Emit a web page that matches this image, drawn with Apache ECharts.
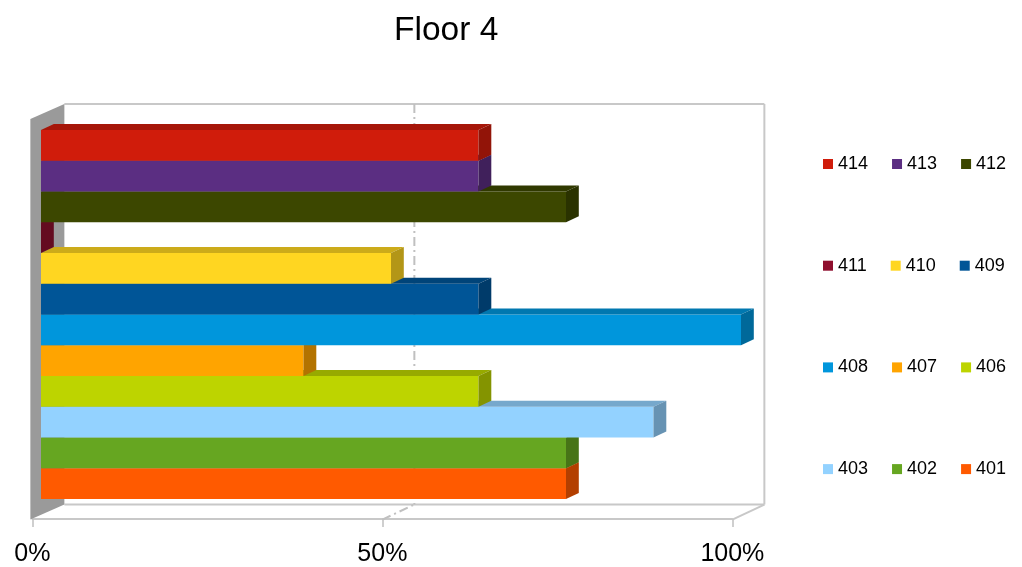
<!DOCTYPE html>
<html>
<head>
<meta charset="utf-8">
<title>Floor 4</title>
<script src="https://cdn.jsdelivr.net/npm/echarts@6/dist/echarts.min.js"></script>
<style>
  html, body { margin: 0; padding: 0; background: #ffffff; }
  #chart { width: 1022px; height: 567px; }
</style>
</head>
<body>
<div id="chart"></div>
<script>
// Rooms on floor 4, listed bottom to top as the bars are stacked
const rooms = ['401', '402', '403', '406', '407', '408', '409', '410', '411', '412', '413', '414'];
// Occupancy per room, in percent
const occupancy = [75, 75, 87.5, 62.5, 37.5, 100, 62.5, 50, 0, 75, 62.5, 62.5];
const roomColors = ['#ff5a00', '#66a621', '#93d2ff', '#bdd400', '#ffa400', '#0096dc',
                    '#005597', '#ffd621', '#8f0f2e', '#3c4700', '#5b2e82', '#d01c0b'];
// Legend rows, read left to right
const legendRows = [
  ['414', '413', '412'],
  ['411', '410', '409'],
  ['408', '407', '406'],
  ['403', '402', '401']
];
const AXIS_MIN = 0;
const AXIS_MAX = 100;
const TICK_STEP = 50;

const FONT = "'Liberation Sans', Arial, sans-serif";

// Oblique 3D look: full depth of the plot box as a screen vector,
// bars sit a little behind the front plane and take part of the depth.
const DEPTH = [32, -15];
const BAR_FRONT = 0.27;
const BAR_DEPTH = 0.4;
const PAD_TOP = 15;
const PAD_BOTTOM = 16.5;

// Grid for the bar front plane
const BAR_GRID = { left: 41, right: 281, top: 130, bottom: 68 };
// Grid for the front edge of the floor (carries the percent axis)
const FRONT_GRID = {
  left: BAR_GRID.left - DEPTH[0] * BAR_FRONT,
  right: BAR_GRID.right + DEPTH[0] * BAR_FRONT,
  top: BAR_GRID.top,
  bottom: BAR_GRID.bottom - PAD_BOTTOM + DEPTH[1] * BAR_FRONT
};

function shade(hex, k) {
  const n = parseInt(hex.slice(1), 16);
  const r = Math.round(((n >> 16) & 255) * k);
  const g = Math.round(((n >> 8) & 255) * k);
  const b = Math.round((n & 255) * k);
  return 'rgb(' + r + ',' + g + ',' + b + ')';
}

const WALL_LINE = { stroke: '#c8c8c8', lineWidth: 2, fill: null };
const GRID_LINE = { stroke: '#c0c0c0', lineWidth: 2, fill: null, lineDash: [9, 4, 2, 4] };

// Walls, floor and grid lines of the 3D box
function renderFrame(params, api) {
  const cs = params.coordSys;
  const xAt = v => api.coord([v, 0])[0];
  const top = cs.y - PAD_TOP;
  const bot = cs.y + cs.height + PAD_BOTTOM;
  const fdx = -DEPTH[0] * BAR_FRONT, fdy = -DEPTH[1] * BAR_FRONT;
  const bdx = DEPTH[0] * (1 - BAR_FRONT), bdy = DEPTH[1] * (1 - BAR_FRONT);
  const F = (v, y) => [xAt(v) + fdx, y + fdy];
  const B = (v, y) => [xAt(v) + bdx, y + bdy];
  const line = (a, b, style) => ({
    type: 'line',
    shape: { x1: a[0], y1: a[1], x2: b[0], y2: b[1] },
    style: style
  });
  const children = [];
  // floor outline
  children.push(line(B(AXIS_MIN, bot), B(AXIS_MAX, bot), WALL_LINE));
  children.push(line(F(AXIS_MAX, bot), B(AXIS_MAX, bot), WALL_LINE));
  // back wall outline
  children.push(line(B(AXIS_MIN, top), B(AXIS_MAX, top), WALL_LINE));
  children.push(line(B(AXIS_MAX, top), B(AXIS_MAX, bot), WALL_LINE));
  // grid lines on back wall and floor
  for (let v = AXIS_MIN + TICK_STEP; v < AXIS_MAX; v += TICK_STEP) {
    children.push(line(B(v, top), B(v, bot), GRID_LINE));
    children.push(line(F(v, bot), B(v, bot), GRID_LINE));
  }
  // left side wall
  const ft = F(AXIS_MIN, top), fb = F(AXIS_MIN, bot);
  children.push({
    type: 'polygon',
    shape: { points: [[ft[0] - 2, ft[1]], B(AXIS_MIN, top), B(AXIS_MIN, bot), [fb[0] - 2, fb[1]]] },
    style: { fill: '#9a9a9a' }
  });
  return { type: 'group', children: children };
}

// One 3D bar: front face, top face and end face
function renderBar(params, api) {
  const v = api.value(0);
  const c = api.value(1);
  const base = api.coord([AXIS_MIN, c]);
  const end = api.coord([v, c]);
  const h = api.size([0, 1])[1];
  const y0 = base[1] - h / 2, y1 = base[1] + h / 2;
  const x0 = base[0], x1 = end[0];
  const dx = DEPTH[0] * BAR_DEPTH, dy = DEPTH[1] * BAR_DEPTH;
  const col = roomColors[c];
  return {
    type: 'group',
    children: [
      { type: 'rect', shape: { x: x0, y: y0, width: x1 - x0, height: y1 - y0 },
        style: { fill: col } },
      { type: 'polygon', shape: { points: [[x0, y0], [x0 + dx, y0 + dy], [x1 + dx, y0 + dy], [x1, y0]] },
        style: { fill: shade(col, 0.8) } },
      { type: 'polygon', shape: { points: [[x1, y0], [x1 + dx, y0 + dy], [x1 + dx, y1 + dy], [x1, y1]] },
        style: { fill: shade(col, 0.7) } }
    ]
  };
}

const series = [{
  name: 'frame',
  type: 'custom',
  xAxisIndex: 0,
  yAxisIndex: 0,
  renderItem: renderFrame,
  data: [[AXIS_MIN, 0]],
  silent: true,
  z: 1
}];
rooms.forEach((room, i) => {
  series.push({
    name: room,
    type: 'custom',
    xAxisIndex: 0,
    yAxisIndex: 0,
    renderItem: renderBar,
    itemStyle: { color: roomColors[i] },
    encode: { x: 0, y: 1 },
    data: [[occupancy[i], i]],
    z: 2
  });
});

const chart = echarts.init(document.getElementById('chart'), null, { renderer: 'canvas' });
chart.setOption({
  animation: false,
  backgroundColor: '#ffffff',
  title: {
    text: 'Floor 4',
    left: 394,
    top: 14,
    padding: 0,
    textStyle: { fontFamily: FONT, fontSize: 33.5, fontWeight: 'normal', color: '#000000' }
  },
  legend: legendRows.map((row, r) => ({
    data: row,
    orient: 'horizontal',
    left: 823,
    top: 155 + r * 101.7,
    padding: 0,
    itemGap: 24,
    itemWidth: 10,
    itemHeight: 10,
    icon: 'rect',
    selectedMode: false,
    textStyle: { fontFamily: FONT, fontSize: 18, color: '#000000' }
  })),
  grid: [
    Object.assign({}, BAR_GRID, { containLabel: false }),
    Object.assign({}, FRONT_GRID, { containLabel: false })
  ],
  xAxis: [
    { gridIndex: 0, type: 'value', min: AXIS_MIN, max: AXIS_MAX, interval: TICK_STEP, show: false },
    {
      gridIndex: 1, type: 'value', min: AXIS_MIN, max: AXIS_MAX, interval: TICK_STEP,
      axisLine: { show: true, lineStyle: { color: '#c8c8c8', width: 2 } },
      axisTick: { show: true, length: 8, lineStyle: { color: '#c0c0c0', width: 1.5 } },
      axisLabel: { formatter: v => v + '%', fontFamily: FONT, fontSize: 25, color: '#000000', margin: 23 },
      splitLine: { show: false }
    }
  ],
  yAxis: [
    { gridIndex: 0, type: 'category', data: rooms, show: false },
    { gridIndex: 1, type: 'value', show: false }
  ],
  series: series
});
</script>
</body>
</html>
